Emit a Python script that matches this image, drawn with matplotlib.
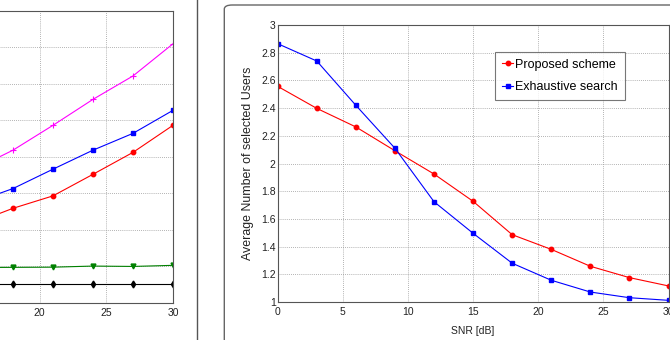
import matplotlib
matplotlib.use("Agg")
import matplotlib.pyplot as plt
from matplotlib.patches import FancyBboxPatch
from matplotlib.lines import Line2D

plt.rcParams['font.family'] = ['Liberation Sans', 'DejaVu Sans']

# ---- Left panel (partially visible) ----
left_x = [15, 18, 21, 24, 27, 30]
left_magenta = [3.64, 4.18, 4.86, 5.57, 6.21, 7.09]
left_blue = [2.74, 3.13, 3.66, 4.18, 4.64, 5.27]
left_red = [2.17, 2.59, 2.93, 3.52, 4.12, 4.86]
left_green = [0.97, 0.975, 0.98, 1.01, 1.0, 1.03]
left_black = [0.51, 0.51, 0.51, 0.51, 0.51, 0.51]
left_xticks = [0, 5, 10, 15, 20, 25, 30]
left_xticklabels = ['', '', '', '', '20', '25', '30']

# ---- Right panel ----
snr = [0, 3, 6, 9, 12, 15, 18, 21, 24, 27, 30]
proposed = [2.557, 2.398, 2.264, 2.092, 1.924, 1.727, 1.486, 1.380, 1.258, 1.176, 1.116]
exhaustive = [2.865, 2.740, 2.420, 2.110, 1.724, 1.496, 1.280, 1.157, 1.072, 1.031, 1.012]
right_xticks = [0, 5, 10, 15, 20, 25, 30]
right_yticks = [1, 1.2, 1.4, 1.6, 1.8, 2, 2.2, 2.4, 2.6, 2.8, 3]
right_yticklabels = ['1', '1.2', '1.4', '1.6', '1.8', '2', '2.2', '2.4', '2.6', '2.8', '3']

W, H = 670, 340
fig = plt.figure(figsize=(6.7, 3.4), dpi=100)


def frac_rect(x0, y0, x1, y1):
    return [x0 / W, 1 - y1 / H, (x1 - x0) / W, (y1 - y0) / H]


grid_kw = dict(color='#9a9a9a', linestyle=(0, (1, 1.5)), linewidth=0.6)
tick_fs = 7.5
lw = 0.8

# Left axes
axL = fig.add_axes(frac_rect(-227, 10.5, 173, 303))
axL.plot(left_x, left_magenta, color='#ff00ff', marker='+', ms=5, lw=lw, mew=0.8)
axL.plot(left_x, left_blue, color='#0000ff', marker='s', ms=3, lw=lw)
axL.plot(left_x, left_red, color='#ff0000', marker='o', ms=3.2, lw=lw)
axL.plot(left_x, left_green, color='#008000', marker='v', ms=3.5, lw=lw)
axL.plot(left_x, left_black, color='black', marker='d', ms=3.5, lw=lw)
axL.set_xlim(0, 30)
axL.set_ylim(0, 8)
axL.set_xticks(left_xticks)
axL.set_xticklabels(left_xticklabels)
axL.set_yticks(range(0, 9))
axL.set_yticklabels([])
axL.grid(True, **grid_kw)
axL.tick_params(labelsize=tick_fs, direction='in', length=0, pad=3.5, colors='#222222')
for s in axL.spines.values():
    s.set_color('#555555')
    s.set_linewidth(0.8)

# Right axes
axR = fig.add_axes(frac_rect(277.7, 25, 668.5, 302))
axR.plot(snr, proposed, color='#ff0000', marker='o', ms=3.2, lw=lw, label='Proposed scheme')
axR.plot(snr, exhaustive, color='#0000ff', marker='s', ms=3, lw=lw, label='Exhaustive search')
axR.set_xlim(0, 30)
axR.set_ylim(1, 3)
axR.set_xticks(right_xticks)
axR.set_yticks(right_yticks)
axR.set_yticklabels(right_yticklabels)
axR.grid(True, **grid_kw)
axR.tick_params(axis='x', labelsize=tick_fs, direction='in', length=0, pad=3.5, colors='#222222')
axR.tick_params(axis='y', labelsize=tick_fs, direction='in', length=0, pad=1.5, colors='#222222')
for s in axR.spines.values():
    s.set_color('#555555')
    s.set_linewidth(0.8)
axR.set_xlabel('SNR [dB]', fontsize=7.5, labelpad=6.5, color='#222222')
axR.set_ylabel('Average Number of selected Users', fontsize=8.9, labelpad=5, color='#222222')
leg = axR.legend(loc='upper left',
                 bbox_to_anchor=((495 - 277.7) / (668.5 - 277.7), 1 - (51.7 - 25) / 277),
                 fontsize=9, frameon=True, fancybox=False, handlelength=0.9, handletextpad=0.15,
                 borderpad=0.55, labelspacing=0.85, borderaxespad=0)
leg.get_frame().set_edgecolor('#555555')
leg.get_frame().set_linewidth(0.8)

# Decorations: separator line and rounded box
fig.add_artist(Line2D([196.7 / W, 196.7 / W], [0, 1], color='#555555', lw=1.0))
box = FancyBboxPatch((224.3 / W, -0.2), 1.0, 1 - 5 / H + 0.2,
                     boxstyle='round,pad=0,rounding_size=0.012',
                     transform=fig.transFigure, facecolor='none', edgecolor='#666666', lw=1.0)
fig.add_artist(box)

fig.savefig('out.png', dpi=100)
